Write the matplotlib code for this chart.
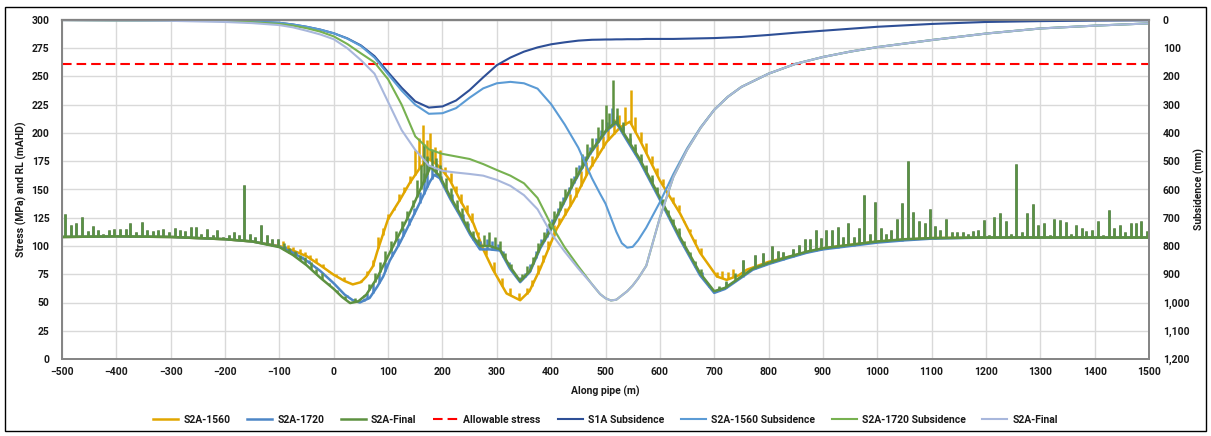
import matplotlib.pyplot as plt
import numpy as np
from matplotlib.patches import Rectangle
from matplotlib.ticker import FuncFormatter

plt.rcParams['font.family'] = ['Roboto', 'DejaVu Sans']
plt.rcParams['font.weight'] = 'bold'

# =========================
# Data - stress (MPa), left axis
# =========================

x_1560 = [-500, -400, -300, -200, -150, -100, -75, -50, -25, 0, 20, 35, 50, 60, 72, 80, 100, 122,
          140, 160, 175, 190, 200, 214, 232, 257, 275, 293, 318, 343, 360, 380, 410, 441, 471, 502,
          527, 545, 563, 600, 637, 674, 705, 723, 745, 760, 800, 850, 900, 950, 1000, 1100, 1200,
          1300, 1400, 1500]
s2a_1560 = [108, 108.5, 108, 106, 104, 100, 96, 91, 83, 74.5, 69, 66, 68, 73, 82, 95, 124, 141,
            156, 170, 177, 172, 167, 158, 141, 120, 97, 79, 58, 52, 60, 80, 115, 140, 168, 192,
            205, 210, 194, 158, 129, 94, 73, 70, 74, 79, 86, 92, 98, 101, 104, 107, 107.5,
            107.5, 107.5, 107.5]

x_1720 = [-500, -400, -300, -200, -150, -100, -75, -50, -25, 0, 20, 35, 48, 66, 80, 91, 103, 122,
          152, 177, 185, 195, 214, 232, 251, 269, 287, 306, 324, 343, 361, 380, 398, 416, 441, 471,
          502, 520, 540, 563, 600, 637, 674, 700, 720, 750, 771, 800, 834, 870, 900, 950, 1000,
          1050, 1100, 1200, 1300, 1400, 1500]
s2a_1720 = [108, 108.5, 108, 106, 104, 99.5, 94, 87, 78, 67, 57, 52, 50, 54, 64, 73, 87, 103,
            132, 157, 163, 160, 142, 127, 110, 97, 97, 96, 80, 68, 77, 98, 113, 131, 155, 181,
            202, 209, 193, 175, 141, 106, 74, 58.5, 62, 72, 79, 84, 89, 94, 97, 100, 103,
            105, 106.5, 107.5, 107.5, 107.5, 107.5]

x_final = [-500, -400, -300, -200, -150, -100, -75, -50, -25, 0, 15, 30, 45, 60, 80, 103, 134, 165,
           178, 195, 214, 232, 251, 269, 287, 306, 324, 343, 361, 380, 398, 416, 441, 471, 502,
           520, 540, 563, 600, 637, 674, 700, 720, 750, 771, 800, 834, 870, 900, 950, 1000, 1050,
           1100, 1200, 1300, 1400, 1500]
s2a_final = [108, 108.5, 108, 106, 104, 99, 92, 83, 72, 62, 55, 49.5, 51, 57, 72, 94, 123, 156,
             170, 162, 144, 129, 112, 100, 100, 97, 82, 69, 78, 99.5, 114, 132, 156, 182, 203,
             210, 195, 177, 143, 108, 76, 60, 63, 73, 80, 85, 90, 95, 98, 101, 104, 106,
             107, 107.5, 107.5, 107.5, 107.5]

# spikes (x, peak) common to the three stress series in the flat zones
left_spikes = [(-494, 128), (-483, 119), (-474, 120), (-464, 126), (-453, 113), (-443, 118),
               (-433, 114), (-424, 111), (-413, 114), (-404, 115), (-393, 115), (-383, 115),
               (-374, 120), (-364, 112), (-353, 121), (-344, 114), (-333, 113), (-323, 114),
               (-314, 115), (-304, 112), (-293, 116), (-283, 114), (-273, 113), (-263, 117),
               (-254, 117), (-244, 111), (-234, 115), (-223, 110), (-214, 114), (-203, 108),
               (-193, 110), (-184, 112), (-174, 110), (-165, 154), (-154, 111), (-144, 108),
               (-134, 119), (-123, 110), (-113, 106), (-103, 106)]
right_spikes = [(753, 88), (775, 92), (790, 94), (806, 100), (817, 96), (827, 95), (845, 97),
                (856, 101), (867, 106), (876, 106), (887, 114), (897, 107), (906, 114), (916, 114),
                (927, 117), (937, 108), (947, 120), (957, 108), (967, 116), (976, 145), (987, 111),
                (996, 139), (1006, 116), (1016, 111), (1026, 114), (1036, 124), (1046, 138),
                (1056, 175), (1066, 130), (1076, 122.5), (1087, 120), (1097, 133), (1106, 118),
                (1116, 114), (1126, 124), (1137, 112), (1146, 112), (1157, 112), (1167, 111),
                (1177, 113), (1186, 114), (1196, 123), (1206, 110), (1215, 126), (1226, 129),
                (1236, 122), (1246, 111), (1255, 173), (1266, 112), (1276, 129), (1286, 137),
                (1296, 119), (1306, 120), (1317, 110), (1326, 124), (1336, 123), (1347, 121),
                (1356, 111), (1366, 119), (1376, 116), (1385, 113), (1396, 114), (1406, 122),
                (1416, 110), (1426, 132), (1436, 116), (1446, 119), (1456, 112), (1466, 120),
                (1476, 120), (1486, 122), (1496, 113)]

# spikes of each series in the middle zone
spikes_1560 = [(-93, 104), (-85, 101), (-75, 99), (-63, 97), (-53, 95), (-43, 92), (-33, 89),
               (-20, 84), (-8, 78), (5, 75), (18, 73), (50, 70), (62, 78), (72, 88), (82, 108),
               (90, 116), (100, 128), (110, 134), (120, 146), (130, 152), (140, 162), (150, 185),
               (157, 196), (164, 207), (171, 194), (178, 200), (186, 188), (195, 185), (205, 170),
               (215, 165), (225, 153), (235, 146), (245, 136), (255, 129), (265, 112), (280, 97),
               (295, 86), (310, 72), (325, 63), (340, 58), (355, 63), (365, 70), (375, 83),
               (385, 92), (395, 104), (405, 119), (415, 125), (425, 134), (435, 146), (445, 152),
               (455, 166), (465, 174), (475, 180), (485, 190), (495, 197), (505, 206), (515, 212),
               (525, 216), (535, 223), (547, 238), (555, 214), (565, 201), (575, 191), (585, 180),
               (595, 169), (605, 159), (615, 149), (625, 143), (635, 136), (645, 122), (655, 115),
               (665, 106), (675, 98), (690, 83), (705, 77), (715, 78), (725, 77), (735, 80)]
spikes_1720 = [(-90, 100), (-80, 97), (-70, 95), (-58, 91), (-45, 88), (-32, 81), (-18, 75),
               (-5, 69), (10, 62), (24, 57), (38, 53), (55, 54), (62, 58), (72, 67), (84, 76),
               (95, 86), (108, 96), (118, 107), (128, 116), (138, 125), (148, 134), (158, 148),
               (166, 165), (172, 175), (180, 172), (188, 170), (197, 162), (207, 152), (217, 146),
               (227, 136), (237, 128), (247, 120), (257, 110), (270, 104), (282, 106), (292, 104),
               (302, 102), (312, 96), (322, 86), (332, 76), (342, 73), (352, 76), (362, 84),
               (372, 96), (382, 106), (392, 116), (402, 124), (412, 134), (422, 143), (432, 152),
               (442, 162), (452, 172), (462, 180), (472, 188), (482, 196), (492, 203), (502, 210),
               (512, 222), (522, 215), (532, 206), (545, 196), (555, 188), (565, 178), (575, 170),
               (585, 160), (595, 150), (605, 141), (615, 130), (625, 121), (635, 112), (645, 102),
               (655, 93), (665, 86), (677, 77), (690, 64), (708, 64), (722, 68)]
spikes_final = [(-92, 103), (-83, 98), (-72, 96), (-62, 92), (-52, 90), (-42, 86), (-32, 80),
                (-22, 76), (-8, 67), (6, 61), (20, 56), (40, 54), (55, 57), (65, 66), (75, 76),
                (85, 86), (95, 96), (105, 104), (115, 113), (125, 122), (135, 131), (145, 141),
                (153, 158), (160, 172), (166, 190), (172, 180), (180, 186), (188, 178), (196, 172),
                (206, 160), (216, 151), (226, 141), (236, 134), (246, 122), (256, 113), (266, 106),
                (276, 110), (286, 112), (296, 108), (306, 104), (316, 94), (326, 84), (336, 74),
                (346, 75), (356, 82), (366, 90), (376, 103), (386, 112), (396, 120), (406, 131),
                (416, 140), (426, 150), (436, 160), (446, 170), (456, 181), (466, 190), (476, 196),
                (486, 205), (494, 212), (500, 225), (507, 218), (514, 247), (522, 222), (532, 210),
                (545, 200), (555, 190), (565, 181), (575, 172), (585, 163), (595, 152), (605, 142),
                (615, 132), (625, 124), (635, 116), (645, 104), (655, 95), (665, 87), (675, 80),
                (690, 66), (708, 65), (722, 69), (738, 76)]

allowable_x = [-500, 1500]
allowable = [261, 261]

# =========================
# Data - subsidence (mm), right axis
# =========================

sub_x = [-500, -400, -300, -200, -150, -100, -75, -50, -25, 0, 25, 50, 75, 100, 125, 150, 175,
         200, 225, 250, 275, 300, 325, 350, 375, 400, 425, 450, 475, 490, 500, 510, 520, 530,
         540, 550, 560, 575, 600, 625, 650, 675, 700, 725, 750, 800, 850, 900, 950, 1000, 1100,
         1200, 1300, 1400, 1500]
s1a_sub = [0, 0.5, 1, 3, 6, 10, 16, 24, 34, 47, 65, 90, 128, 185, 240, 288, 310,
           306, 285, 248, 203, 160, 133, 112, 97, 86, 79, 73, 70, 69.5, 69, 69, 68.5, 68.5,
           68, 68, 68, 67, 67, 67, 66, 65, 64, 62, 60, 53, 45, 38, 31, 24, 14,
           7, 4, 2, 1]
s2a_1560_sub = [0, 0.5, 1, 3, 6, 10, 16, 24, 34, 47, 66, 92, 133, 192, 250, 300, 332,
                330, 312, 275, 242, 224, 219, 224, 243, 298, 370, 452, 560, 615, 650, 700, 750, 790,
                806, 803, 780, 735, 645, 545, 455, 380, 318, 272, 237, 190, 155, 131, 112, 96, 71,
                48, 30, 20, 12]
s2a_1720_sub = [0, 1, 2, 4, 8, 14, 20, 29, 41, 58, 85, 118, 150, 210, 300, 412, 458,
                474, 483, 492, 510, 531, 551, 578, 630, 725, 805, 872, 935, 970, 985, 993, 990, 975,
                960, 940, 915, 870, 700, 555, 460, 382, 318, 272, 237, 190, 155, 131, 112, 96, 71,
                48, 30, 20, 12]
s2a_final_sub = [0, 1, 3, 7, 11, 18, 26, 38, 51, 68, 100, 142, 190, 290, 390, 460, 515,
                 534, 540, 545, 551, 566, 587, 620, 670, 755, 820, 880, 935, 970, 985, 993, 990, 975,
                 960, 940, 915, 870, 700, 555, 460, 382, 318, 272, 237, 190, 155, 131, 112, 96, 71,
                 48, 30, 20, 12]

# =========================
# Graphique
# =========================

c_1560 = '#E1A600'
c_1720 = '#4D86C6'
c_final = '#5D9140'
txt = '#1A1A1A'

fig = plt.figure(figsize=(12.11, 4.36), dpi=100)
ax = fig.add_axes([62 / 1211, 1 - 359 / 436, 1087 / 1211, 339 / 436])
ax2 = ax.twinx()

stress = [(x_1560, s2a_1560, spikes_1560, c_1560, 'S2A-1560'),
          (x_1720, s2a_1720, spikes_1720, c_1720, 'S2A-1720'),
          (x_final, s2a_final, spikes_final, c_final, 'S2A-Final')]
handles = []
for xs, vs, sp, col, lab in stress:
    h, = ax.plot(xs, vs, color=col, lw=1.8, label=lab, zorder=3)
    handles.append(h)
    allsp = left_spikes + sp + right_spikes
    sx = np.array([p[0] for p in allsp])
    st = np.array([p[1] for p in allsp])
    ax.vlines(sx, np.interp(sx, xs, vs), st, color=col, lw=1.8, zorder=3)

h, = ax.plot(allowable_x, allowable, color='#FF0000', lw=1.5, ls=(0, (4.6, 2.4)),
             label='Allowable stress', zorder=4)
handles.append(h)

subs = [(s1a_sub, '#2E4F96', 'S1A Subsidence'),
        (s2a_1560_sub, '#5B9BD5', 'S2A-1560 Subsidence'),
        (s2a_1720_sub, '#77B150', 'S2A-1720 Subsidence'),
        (s2a_final_sub, '#A8B7DC', 'S2A-Final')]
for vals, col, lab in subs:
    h, = ax2.plot(sub_x, vals, color=col, lw=1.5, label=lab)
    handles.append(h)

ax.set_xlim(-500, 1500)
ax.set_ylim(0, 300)
ax.set_xticks(np.arange(-500, 1501, 100))
ax.set_yticks(np.arange(0, 301, 25))
ax2.set_ylim(1200, 0)
ax2.set_yticks(np.arange(0, 1201, 100))
ax2.yaxis.set_major_formatter(FuncFormatter(lambda v, p: f'{v:,.0f}'))

ax.grid(color='#D9D9D9', lw=1)
ax.set_axisbelow(True)
for a in (ax, ax2):
    for sp in a.spines.values():
        sp.set_color('#858585')
        sp.set_linewidth(1.3)
    a.tick_params(length=0, labelsize=7.5, labelcolor=txt)
    for t in a.get_xticklabels() + a.get_yticklabels():
        t.set_fontweight('bold')
ax.spines['top'].set_color('#6E6E6E')
ax.spines['top'].set_linewidth(1.6)
ax.tick_params(axis='y', pad=9)
ax.tick_params(axis='x', pad=6)
ax2.tick_params(axis='y', pad=10)

ax.set_xlabel('Along pipe (m)', fontsize=7.5, color=txt, labelpad=6, fontweight='bold')
ax.set_ylabel('Stress (MPa) and RL (mAHD)', fontsize=7.5, color=txt, labelpad=3,
              fontweight='bold')
ax2.set_ylabel('Subsidence (mm)', fontsize=7.5, color=txt, labelpad=3, fontweight='bold')

fig.legend(handles, [h.get_label() for h in handles], loc='center',
           bbox_to_anchor=(0.5, 1 - 420 / 436), ncol=8, frameon=False,
           prop={'size': 7.5, 'weight': 'bold'}, labelcolor=txt,
           handlelength=2.4, columnspacing=1.6, handletextpad=0.5)

fig.patches.append(Rectangle((5 / 1211, 1 - 431 / 436), 1201 / 1211, 424 / 436,
                             transform=fig.transFigure, fill=False, ec='black', lw=1))

fig.savefig('out.png', dpi=100)
